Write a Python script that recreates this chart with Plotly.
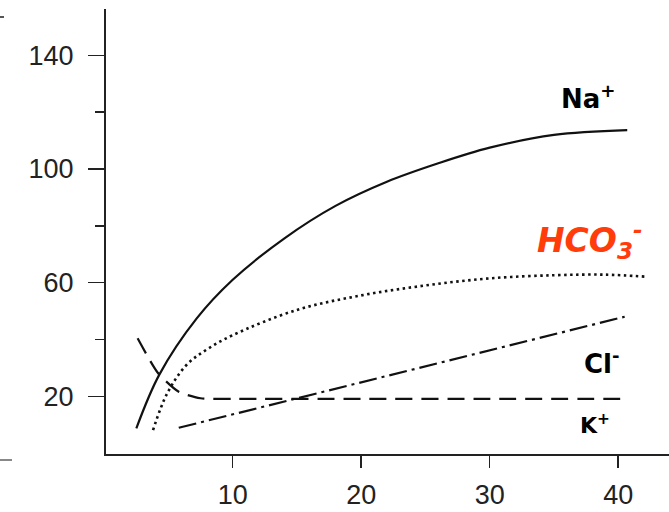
import plotly.graph_objects as go

# ---- data ----
na_x = [2.5, 4.3, 7.2, 10, 14, 18, 22, 26, 30, 35, 40.7]
na_y = [8.7, 27.7, 47.4, 61, 75.5, 87, 95.5, 102, 107.5, 112, 113.7]

hco3_x = [3.8, 4.9, 6.4, 8, 10, 15, 20, 25, 30, 35, 39, 42.1]
hco3_y = [8.1, 21, 31.0, 36.5, 41.5, 50.4, 55.5, 59, 61.5, 62.6, 62.8, 62.1]

cl_x = [5.8, 40.5]
cl_y = [8.9, 48.0]

k_x = [2.6, 4.2, 5.8, 7.5, 10, 20, 30, 40.7]
k_y = [40.4, 28.1, 21.6, 19.3, 19.1, 19.1, 19.1, 19.1]

x_ticks = [10, 20, 30, 40]
y_ticks = [20, 60, 100, 140]
y_minor = [40, 80, 120]

labels = [
    dict(text="<b>Na<sup>+</sup></b>", x=37.7, y=125.3, size=26, color="#000000"),
    dict(text="<b><i>HCO<sub>3</sub><sup>-</sup></i></b>", x=37.8, y=75.0, size=33, color="#FF3C0A"),
    dict(text="<b>Cl<sup>-</sup></b>", x=38.7, y=32.1, size=26, color="#000000"),
    dict(text="<b>K<sup>+</sup></b>", x=38.2, y=10.2, size=22, color="#000000"),
]

fig = go.Figure()
fig.add_trace(go.Scatter(x=na_x, y=na_y, mode="lines",
                         line=dict(color="#111111", width=2.2, shape="spline", smoothing=1.0)))
fig.add_trace(go.Scatter(x=hco3_x, y=hco3_y, mode="lines",
                         line=dict(color="#111111", width=2.6, shape="spline", smoothing=1.0,
                                   dash="2.5px,3.5px")))
fig.add_trace(go.Scatter(x=cl_x, y=cl_y, mode="lines",
                         line=dict(color="#111111", width=2.2, dash="18px,5px,3px,5px")))
fig.add_trace(go.Scatter(x=k_x, y=k_y, mode="lines",
                         line=dict(color="#111111", width=2.2, shape="spline", smoothing=0.6,
                                   dash="17px,9px")))

for lb in labels:
    fig.add_annotation(x=lb["x"], y=lb["y"], xref="x", yref="y", text=lb["text"],
                       showarrow=False, xanchor="center", yanchor="middle",
                       font=dict(family="DejaVu Sans, Liberation Sans", size=lb["size"], color=lb["color"]))

# stray scan marks at the left edge
fig.add_shape(type="line", xref="paper", yref="paper", x0=-106/563, x1=-102/563,
              y0=0.982, y1=0.982, line=dict(color="#555555", width=2))
fig.add_shape(type="line", xref="paper", yref="paper", x0=-106/563, x1=-94/563,
              y0=-0.0135, y1=-0.0135, line=dict(color="#888888", width=2))

fig.update_layout(
    width=669, height=512,
    margin=dict(l=106, r=0, t=9, b=58, autoexpand=False),
    paper_bgcolor="white", plot_bgcolor="white",
    showlegend=False,
    xaxis=dict(range=[0.14, 43.95], showgrid=False, zeroline=False, automargin=False,
               showline=True, linecolor="#222222", linewidth=2,
               ticks="outside", ticklen=12, tickwidth=1.5, tickcolor="#222222",
               tickvals=x_ticks, ticktext=[str(v) for v in x_ticks],
               ticklabelstandoff=4,
               tickfont=dict(family="Liberation Sans", size=27, color="#222222")),
    yaxis=dict(range=[-0.32, 156.3], showgrid=False, zeroline=False, automargin=False,
               showline=True, linecolor="#222222", linewidth=2,
               ticks="outside", ticklen=16, tickwidth=1.5, tickcolor="#222222",
               tickvals=y_ticks, ticktext=[str(v) for v in y_ticks],
               ticklabelstandoff=9,
               minor=dict(tickvals=y_minor, ticks="outside", ticklen=9, tickwidth=1.5,
                          tickcolor="#222222", showgrid=False),
               tickfont=dict(family="Liberation Sans", size=27, color="#222222")),
)

fig.write_html("out.html", config={"displayModeBar": False, "staticPlot": True},
               post_script="document.body.style.margin='0';document.body.style.overflow='hidden';")
